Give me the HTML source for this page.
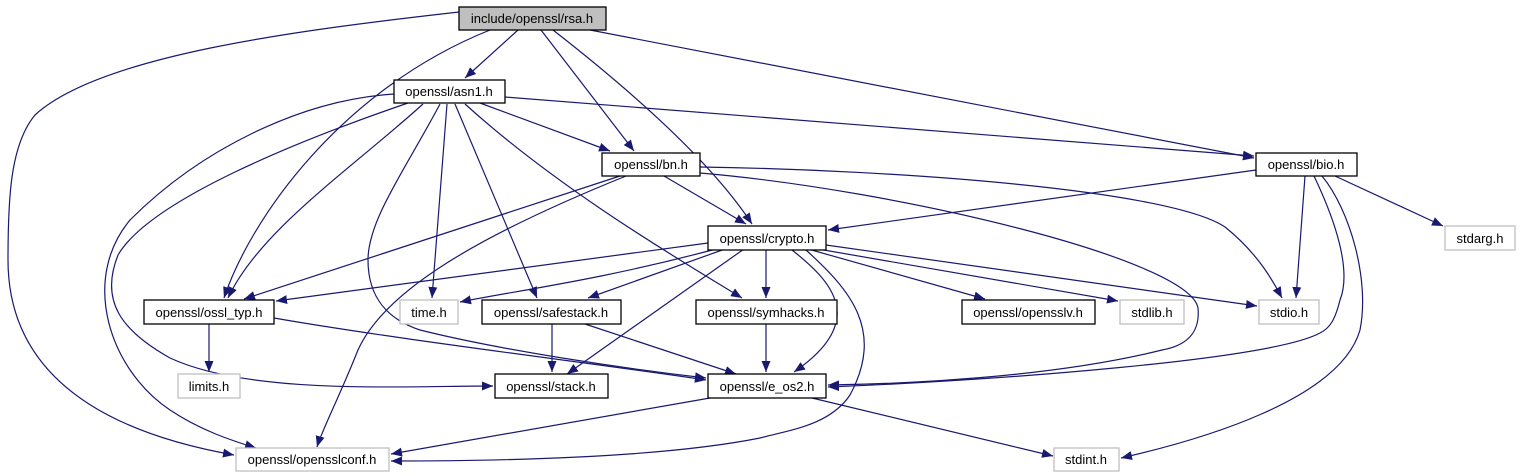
<!DOCTYPE html>
<html><head><meta charset="utf-8"><style>
html,body{margin:0;padding:0;background:#fff;}
svg{display:block;}
text{font-family:"Liberation Sans",Arial,sans-serif;font-size:13px;fill:#000;}
</style></head><body>
<svg width="1520" height="476" viewBox="0 0 1520 476" xmlns="http://www.w3.org/2000/svg">
<defs>
<marker id="a" markerUnits="userSpaceOnUse" markerWidth="12" markerHeight="10" refX="11" refY="4.5" orient="auto">
<path d="M0,0 L11,4.5 L0,9 Z" fill="#191970"/>
</marker>
</defs>
<g fill="none" stroke="#191970" stroke-width="1.2" marker-end="url(#a)">
<!-- rsa -->
<path d="M459,12 C300,30 100,55 35,115 C10,145 8,200 8,260 C8,400 150,440 234,455"/>
<path d="M490,30 C340,90 250,220 224,298"/>
<path d="M518,30 L465,78"/>
<path d="M541,30 L634,151"/>
<path d="M553,30 C630,90 710,160 752,224"/>
<path d="M590,30 L1254,158"/>
<!-- asn1 -->
<path d="M394,94 C300,100 200,150 130,220 C80,280 110,370 170,410 C200,430 230,440 256,448"/>
<path d="M408,103 C300,140 150,200 118,255 C100,300 120,330 170,358 C250,395 400,386 493,386"/>
<path d="M423,104 C350,170 260,230 228,298"/>
<path d="M440,104 C405,170 368,220 368,260 C368,300 390,320 420,330 C500,350 620,368 706,378"/>
<path d="M447,104 L432,298"/>
<path d="M455,104 L537,298"/>
<path d="M465,104 C560,190 680,260 742,298"/>
<path d="M480,103 L610,151"/>
<path d="M505,97 L1254,156"/>
<!-- bn -->
<path d="M664,176 L746,224"/>
<path d="M620,176 L244,299"/>
<path d="M626,176 C480,235 385,290 358,350 C338,400 322,430 317,447"/>
<path d="M700,167 C900,170 1170,190 1225,227 C1260,255 1275,285 1282,298"/>
<path d="M700,173 C900,190 1190,260 1198,308 C1200,330 1190,345 1162,350 C1050,378 900,384 828,385"/>
<!-- bio -->
<path d="M1256,170 L828,230"/>
<path d="M1305,176 L1296,298"/>
<path d="M1314,176 C1335,220 1352,270 1340,300 C1335,320 1330,328 1320,333 C1270,360 1000,380 828,387"/>
<path d="M1322,176 C1350,210 1370,280 1360,330 C1340,400 1200,440 1121,458"/>
<path d="M1335,176 L1443,226"/>
<!-- crypto -->
<path d="M708,243 L276,301"/>
<path d="M716,249 C600,280 520,290 460,302"/>
<path d="M725,249 L588,298"/>
<path d="M744,249 L567,374"/>
<path d="M766,249 L766,298"/>
<path d="M792,250 C830,280 870,320 794,372"/>
<path d="M806,250 C850,290 885,330 850,395 C830,425 790,430 760,438 C660,458 500,461 391,461"/>
<path d="M808,249 L985,299"/>
<path d="M818,249 L1118,301"/>
<path d="M826,245 L1257,306"/>
<!-- row4 -->
<path d="M209,324 L209,372"/>
<path d="M274,318 C400,340 600,364 706,380"/>
<path d="M552,324 L552,372"/>
<path d="M585,324 L736,374"/>
<path d="M766,324 L766,372"/>
<!-- e_os2 -->
<path d="M710,398 L391,454"/>
<path d="M812,398 L1053,456"/>
</g>
<g stroke-width="1.3">
<rect x="459" y="7" width="147" height="23" fill="#bfbfbf" stroke="#000"/>
<rect x="394" y="80" width="111" height="23" fill="#fff" stroke="#000"/>
<rect x="602" y="153" width="98" height="23" fill="#fff" stroke="#000"/>
<rect x="1256" y="153" width="101" height="23" fill="#fff" stroke="#000"/>
<rect x="708" y="226" width="118" height="24" fill="#fff" stroke="#000"/>
<rect x="1445" y="226" width="70" height="24" fill="#fff" stroke="#bfbfbf"/>
<rect x="144" y="300" width="130" height="24" fill="#fff" stroke="#000"/>
<rect x="400" y="300" width="58" height="24" fill="#fff" stroke="#bfbfbf"/>
<rect x="482" y="300" width="139" height="24" fill="#fff" stroke="#000"/>
<rect x="696" y="300" width="141" height="24" fill="#fff" stroke="#000"/>
<rect x="962" y="300" width="133" height="24" fill="#fff" stroke="#000"/>
<rect x="1120" y="300" width="64" height="24" fill="#fff" stroke="#bfbfbf"/>
<rect x="1259" y="300" width="60" height="24" fill="#fff" stroke="#bfbfbf"/>
<rect x="178" y="374" width="62" height="24" fill="#fff" stroke="#bfbfbf"/>
<rect x="495" y="374" width="113" height="24" fill="#fff" stroke="#000"/>
<rect x="708" y="374" width="118" height="24" fill="#fff" stroke="#000"/>
<rect x="236" y="448" width="153" height="23" fill="#fff" stroke="#bfbfbf"/>
<rect x="1054" y="448" width="65" height="23" fill="#fff" stroke="#bfbfbf"/>
</g>
<g text-anchor="middle">
<text x="532" y="23">include/openssl/rsa.h</text>
<text x="449" y="96">openssl/asn1.h</text>
<text x="651" y="169">openssl/bn.h</text>
<text x="1306" y="169">openssl/bio.h</text>
<text x="767" y="243">openssl/crypto.h</text>
<text x="1480" y="243">stdarg.h</text>
<text x="209" y="317">openssl/ossl_typ.h</text>
<text x="429" y="317">time.h</text>
<text x="551" y="317">openssl/safestack.h</text>
<text x="766" y="317">openssl/symhacks.h</text>
<text x="1028" y="317">openssl/opensslv.h</text>
<text x="1152" y="317">stdlib.h</text>
<text x="1289" y="317">stdio.h</text>
<text x="209" y="391">limits.h</text>
<text x="551" y="391">openssl/stack.h</text>
<text x="767" y="391">openssl/e_os2.h</text>
<text x="312" y="464">openssl/opensslconf.h</text>
<text x="1086" y="464">stdint.h</text>
</g>
</svg>
</body></html>
